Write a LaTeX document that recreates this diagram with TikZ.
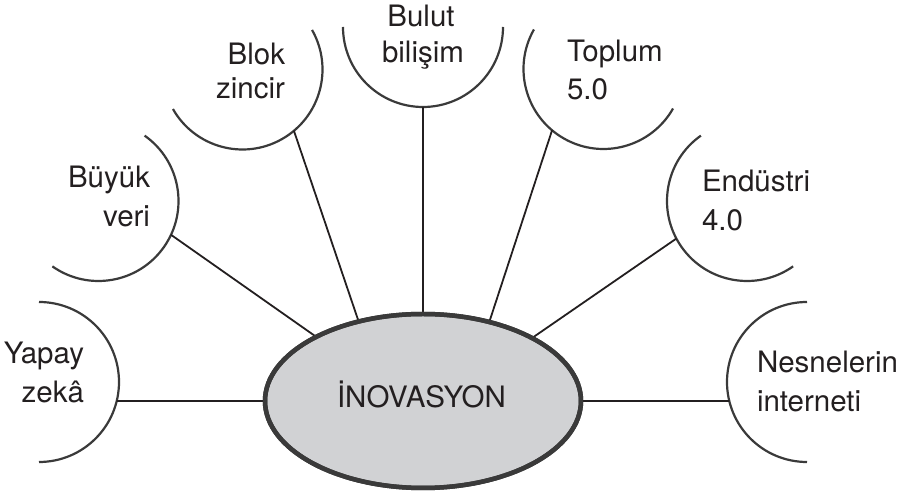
\documentclass[tikz,border=0pt]{standalone}
\usepackage{fontspec}
\setmainfont{TeX Gyre Heros}
\usetikzlibrary{shapes.geometric}
\definecolor{ink}{HTML}{3A3A3A}
\definecolor{txt}{HTML}{231F20}
\definecolor{fillg}{HTML}{D1D2D4}
\begin{document}
\begin{tikzpicture}[x=1pt,y=1pt,
  arcline/.style={draw=ink,line width=2.2pt},
  conn/.style={draw=txt,line width=1.8pt},
  lbl/.style={font=\fontsize{29.5}{36}\selectfont,text=txt,inner sep=0pt,outer sep=0pt},
  lr/.style={lbl,anchor=base east},
  ll/.style={lbl,anchor=base west},
  lc/.style={lbl,anchor=base}]
\useasboundingbox (0,0) rectangle (911,492);
% centres of the arcs
\coordinate (cyz) at (39,110);
\coordinate (cbv) at (98.5,291);
\coordinate (cbz) at (242.5,422.5);
\coordinate (cbb) at (423,465);
\coordinate (ctp) at (603.5,423);
\coordinate (cen) at (747,291);
\coordinate (cni) at (807,110);
% arcs
\draw[arcline] (cyz) ++(90:80) arc[start angle=90,end angle=-90,radius=80];
\draw[arcline] (cbv) ++(54.8:80) arc[start angle=54.8,end angle=-125.2,radius=80];
\draw[arcline] (cbz) ++(29.6:80) arc[start angle=29.6,end angle=-150.4,radius=80];
\draw[arcline] (cbb) ++(180:80) arc[start angle=180,end angle=360,radius=80];
\draw[arcline] (ctp) ++(150.4:80) arc[start angle=150.4,end angle=330.4,radius=80];
\draw[arcline] (cen) ++(125.2:80) arc[start angle=125.2,end angle=305.2,radius=80];
\draw[arcline] (cni) ++(90:80) arc[start angle=90,end angle=270,radius=80];
% connector ends on the arcs
\path (cyz) ++(-13.74:80) coordinate (pyz);
\path (cbv) ++(-25:80) coordinate (pbv);
\path (cbz) ++(-50:80) coordinate (pbz);
\path (cbb) ++(-90:80) coordinate (pbb);
\path (ctp) ++(230:80) coordinate (ptp);
\path (cen) ++(208:80) coordinate (pen);
\path (cni) ++(193.74:80) coordinate (pni);
% central ellipse
\node[ellipse,draw=ink,line width=4.5pt,fill=fillg,minimum width=316pt,minimum height=174pt,inner sep=0pt,outer sep=0pt] (ino) at (423,91) {};
\draw[conn] (pyz) -- (ino.west);
\draw[conn] (pbv) -- (ino.149);
\draw[conn] (pbz) -- (ino.129.5);
\draw[conn] (pbb) -- (ino.north);
\draw[conn] (ptp) -- (ino.50.5);
\draw[conn] (pen) -- (ino.30);
\draw[conn] (pni) -- (ino.east);
\node[draw=ink,line width=4.5pt,ellipse,minimum width=316pt,minimum height=174pt,inner sep=0pt] (inoring) at (ino.center) {};
\node[lc] (inolbl) at (421.5,84) {İNOVASYON};
% labels
\node[lr] (yz1) at (84,128) {Yapay};
\node[lr] (yz2) at (84,89) {zekâ};
\node[lr] (bv1) at (150,304) {Büyük};
\node[lr] (bv2) at (150,265) {veri};
\node[lr] (bz1) at (285,427) {Blok};
\node[lr] (bz2) at (285,393) {zincir};
\node[lc] (bb1) at (421,465) {Bulut};
\node[lc] (bb2) at (423,429) {bilişim};
\node[ll] (tp1) at (567,430) {Toplum};
\node[ll] (tp2) at (567,392) {5.0};
\node[ll] (en1) at (702,300) {Endüstri};
\node[ll] (en2) at (702,261) {4.0};
\node[ll] (ni1) at (757,119) {Nesnelerin};
\node[ll] (ni2) at (757,80) {interneti};
\end{tikzpicture}
\end{document}
